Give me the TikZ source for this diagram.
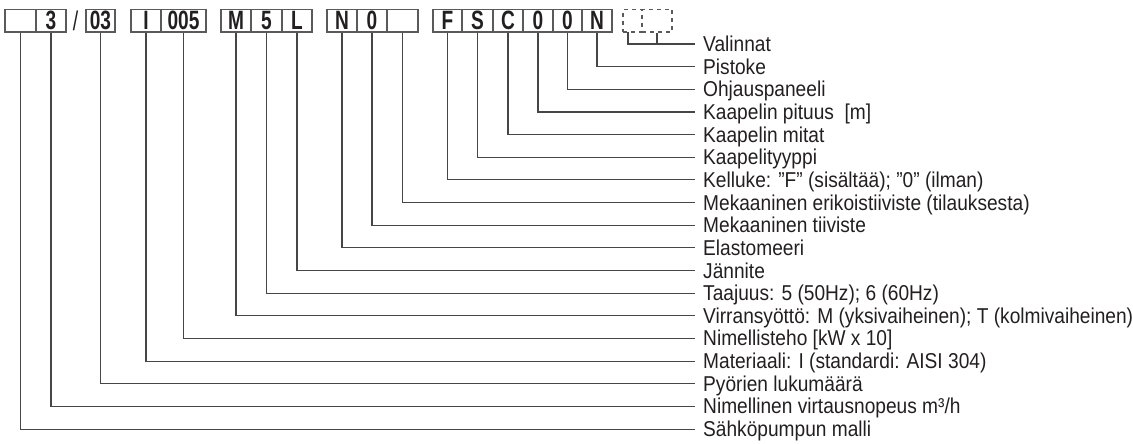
\documentclass[tikz,border=0pt]{standalone}
\usepackage{fontspec}
\setmainfont{Liberation Sans}[FakeStretch=0.89]
\newfontfamily\cellfont{Liberation Sans}[FakeStretch=0.72]
\definecolor{linegray}{RGB}{70,70,70}
\definecolor{boxgray}{RGB}{90,90,90}
\definecolor{textcol}{RGB}{35,31,32}
\begin{document}
\begin{tikzpicture}[x=1pt,y=-1pt,
  cell/.style={draw=boxgray, line width=1.2pt, minimum height=22.5pt, inner sep=0pt,
    text=textcol, font=\cellfont\bfseries\fontsize{26.5}{26.5}\selectfont},
  dcell/.style={cell, dash pattern=on 4pt off 4pt},
  conn/.style={draw=linegray, line width=1.1pt},
  lab/.style={anchor=base west, inner sep=0pt, text=textcol,
    font=\fontsize{21.5}{24}\selectfont}]
\useasboundingbox (0,0) rectangle (1133,444);
% cells
\node[cell, minimum width=31pt] (c1) at (20.5,20.75) {};
\node[cell, minimum width=30pt] (c2) at (51,20.75) {3};
\node[inner sep=0pt, text=textcol, font=\cellfont\fontsize{27}{27}\selectfont] (slash) at (75.5,20.75) {/};
\node[cell, minimum width=29pt] (c3) at (100.5,20.75) {03};
\node[cell, minimum width=30pt] (c4) at (146,20.75) {I};
\node[cell, minimum width=45pt] (c5) at (183.5,20.75) {005};
\node[cell, minimum width=30pt] (c6) at (236,20.75) {M};
\node[cell, minimum width=31pt] (c7) at (266.5,20.75) {5};
\node[cell, minimum width=30pt] (c8) at (297,20.75) {L};
\node[cell, minimum width=30pt] (c9) at (342,20.75) {N};
\node[cell, minimum width=30pt] (c10) at (372,20.75) {0};
\node[cell, minimum width=31pt] (c11) at (402.5,20.75) {};
\node[cell, minimum width=29pt] (c12) at (447.5,20.75) {F};
\node[cell, minimum width=31pt] (c13) at (477.5,20.75) {S};
\node[cell, minimum width=30pt] (c14) at (508,20.75) {C};
\node[cell, minimum width=30pt] (c15) at (538,20.75) {0};
\node[cell, minimum width=29pt] (c16) at (567.5,20.75) {0};
\node[cell, minimum width=30pt] (c17) at (597,20.75) {N};
\node[dcell, minimum width=19pt] (d1) at (632.5,20.75) {};
\node[dcell, minimum width=30pt] (d2) at (657,20.75) {};
\coordinate (t1) at (628,32);
% label end points
\coordinate (e0) at (695,44.0);
\coordinate (e1) at (695,66.65);
\coordinate (e2) at (695,89.3);
\coordinate (e3) at (695,111.95);
\coordinate (e4) at (695,134.6);
\coordinate (e5) at (695,157.25);
\coordinate (e6) at (695,179.9);
\coordinate (e7) at (695,202.55);
\coordinate (e8) at (695,225.2);
\coordinate (e9) at (695,247.85);
\coordinate (e10) at (695,270.5);
\coordinate (e11) at (695,293.15);
\coordinate (e12) at (695,315.8);
\coordinate (e13) at (695,338.45);
\coordinate (e14) at (695,361.1);
\coordinate (e15) at (695,383.75);
\coordinate (e16) at (695,406.4);
\coordinate (e17) at (695,429.05);
% labels
\node[lab] (l0) at (703,51.5) {Valinnat};
\node[lab] (l1) at (703,74.15) {Pistoke};
\node[lab] (l2) at (703,96.8) {Ohjauspaneeli};
\node[lab] (l3) at (703,119.45) {Kaapelin pituus\ \ [m]};
\node[lab] (l4) at (703,142.1) {Kaapelin mitat};
\node[lab] (l5) at (703,164.75) {Kaapelityyppi};
\node[lab] (l6) at (703,187.4) {Kelluke: "F" (sisältää); "0" (ilman)};
\node[lab] (l7) at (703,210.05) {Mekaaninen erikoistiiviste (tilauksesta)};
\node[lab] (l8) at (703,232.7) {Mekaaninen tiiviste};
\node[lab] (l9) at (703,255.35) {Elastomeeri};
\node[lab] (l10) at (703,278.0) {Jännite};
\node[lab] (l11) at (703,300.65) {Taajuus: 5 (50Hz); 6 (60Hz)};
\node[lab] (l12) at (703,323.3) {Virransyöttö: M (yksivaiheinen); T (kolmivaiheinen)};
\node[lab] (l13) at (703,345.95) {Nimellisteho [kW x 10]};
\node[lab] (l14) at (703,368.6) {Materiaali: I (standardi: AISI 304)};
\node[lab] (l15) at (703,391.25) {Pyörien lukumäärä};
\node[lab] (l16) at (703,413.9) {Nimellinen virtausnopeus m³/h};
\node[lab] (l17) at (703,436.55) {Sähköpumpun malli};
% connectors
\draw[conn] (t1) |- (e0);
\draw[conn] (d2.south) -- (d2.south |- e0);
\draw[conn] (c17.south) |- (e1);
\draw[conn] (c16.south) |- (e2);
\draw[conn] (c15.south) |- (e3);
\draw[conn] (c14.south) |- (e4);
\draw[conn] (c13.south) |- (e5);
\draw[conn] (c12.south) |- (e6);
\draw[conn] (c11.south) |- (e7);
\draw[conn] (c10.south) |- (e8);
\draw[conn] (c9.south) |- (e9);
\draw[conn] (c8.south) |- (e10);
\draw[conn] (c7.south) |- (e11);
\draw[conn] (c6.south) |- (e12);
\draw[conn] (c5.south) |- (e13);
\draw[conn] (c4.south) |- (e14);
\draw[conn] (c3.south) |- (e15);
\draw[conn] (c2.south) |- (e16);
\draw[conn] (c1.south) |- (e17);
\end{tikzpicture}
\end{document}
